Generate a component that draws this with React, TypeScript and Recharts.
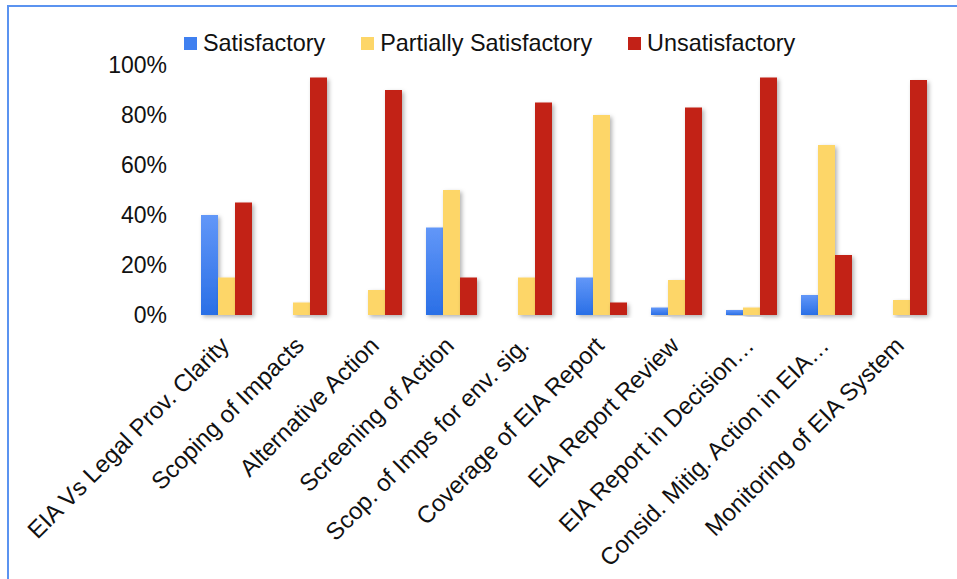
import { BarChart, Bar, XAxis, YAxis } from 'recharts';

const categories = [
  'EIA Vs Legal Prov. Clarity',
  'Scoping of Impacts',
  'Alternative Action',
  'Screening of Action',
  'Scop. of Imps for env. sig.',
  'Coverage of EIA Report',
  'EIA Report Review',
  'EIA Report in Decision…',
  'Consid. Mitig. Action in EIA…',
  'Monitoring of EIA System',
];

const satisfactory = [40, 0, 0, 35, 0, 15, 3, 2, 8, 0];
const partiallySatisfactory = [15, 5, 10, 50, 15, 80, 14, 3, 68, 6];
const unsatisfactory = [45, 95, 90, 15, 85, 5, 83, 95, 24, 94];

const yTicks = [0, 20, 40, 60, 80, 100];

const SERIES = [
  { key: 'satisfactory', name: 'Satisfactory', fill: 'url(#gradBlue)', swatch: '#3f80f0' },
  { key: 'partial', name: 'Partially Satisfactory', fill: '#fdd668', swatch: '#fdd668' },
  { key: 'unsatisfactory', name: 'Unsatisfactory', fill: '#c22117', swatch: '#c22117' },
];

const data = categories.map((name, i) => ({
  name,
  satisfactory: satisfactory[i],
  partial: partiallySatisfactory[i],
  unsatisfactory: unsatisfactory[i],
}));

const FONT = '"Liberation Sans", Arial, sans-serif';

// bar with a soft drop shadow
const ShadowBar = (props: any) => {
  const { x, y, width, height, fill } = props;
  if (!height || height <= 0) return null;
  return <rect x={x} y={y} width={width} height={height} fill={fill} filter="url(#barShadow)" />;
};

const CategoryTick = (props: any) => {
  const { x, y, payload } = props;
  const ax = x + 4;
  const ay = y + 30;
  return (
    <text
      x={ax}
      y={ay}
      textAnchor="end"
      transform={`rotate(-45, ${ax}, ${ay})`}
      fontSize={24}
      fontFamily={FONT}
      fill="#111"
    >
      {payload.value}
    </text>
  );
};

const LegendRow = () => (
  <div
    style={{
      position: 'absolute',
      left: 184,
      top: 30,
      display: 'flex',
      alignItems: 'center',
      fontFamily: FONT,
      fontSize: 23.4,
      color: '#111',
      whiteSpace: 'nowrap',
    }}
  >
    {SERIES.map((s, i) => (
      <div key={s.key} style={{ display: 'flex', alignItems: 'center', marginRight: i < SERIES.length - 1 ? 36 : 0 }}>
        <span style={{ width: 13, height: 13, background: s.swatch, display: 'inline-block', marginRight: 6 }} />
        <span>{s.name}</span>
      </div>
    ))}
  </div>
);

export default function App() {
  return (
    <div style={{ position: 'fixed', left: 0, top: 0, width: 957, height: 579, background: '#fff', overflow: 'hidden' }}>
      <div
        style={{
          position: 'absolute',
          left: 7,
          top: 5,
          width: 980,
          height: 600,
          borderTop: '2px solid #5b93f0',
          borderLeft: '2px solid #5b93f0',
        }}
      />
      <svg width={0} height={0} style={{ position: 'absolute' }}>
        <defs>
          <linearGradient id="gradBlue" x1="0" y1="0" x2="0" y2="1">
            <stop offset="0%" stopColor="#6297f8" />
            <stop offset="100%" stopColor="#2a6fe6" />
          </linearGradient>
          <filter id="barShadow" x="-30%" y="-10%" width="180%" height="130%">
            <feDropShadow dx="2" dy="2" stdDeviation="2" floodColor="#000" floodOpacity="0.3" />
          </filter>
        </defs>
      </svg>
      <LegendRow />
      <div style={{ position: 'absolute', left: 0, top: 0 }}>
        <BarChart
          width={957}
          height={579}
          data={data}
          margin={{ top: 65, right: 18, bottom: 263, left: 0 }}
          barGap={0}
          barSize={17}
        >
          <XAxis
            dataKey="name"
            height={1}
            axisLine={false}
            tickLine={false}
            tickSize={0}
            interval={0}
            tick={<CategoryTick />}
          />
          <YAxis
            width={189}
            domain={[0, 100]}
            ticks={yTicks}
            axisLine={false}
            tickLine={false}
            tickSize={0}
            tickMargin={22}
            tickFormatter={(v: number) => `${v}%`}
            tick={{ fontSize: 23, fontFamily: FONT, fill: '#111' }}
          />
          {SERIES.map((s) => (
            <Bar key={s.key} dataKey={s.key} name={s.name} fill={s.fill} shape={<ShadowBar />} isAnimationActive={false} />
          ))}
        </BarChart>
      </div>
    </div>
  );
}
